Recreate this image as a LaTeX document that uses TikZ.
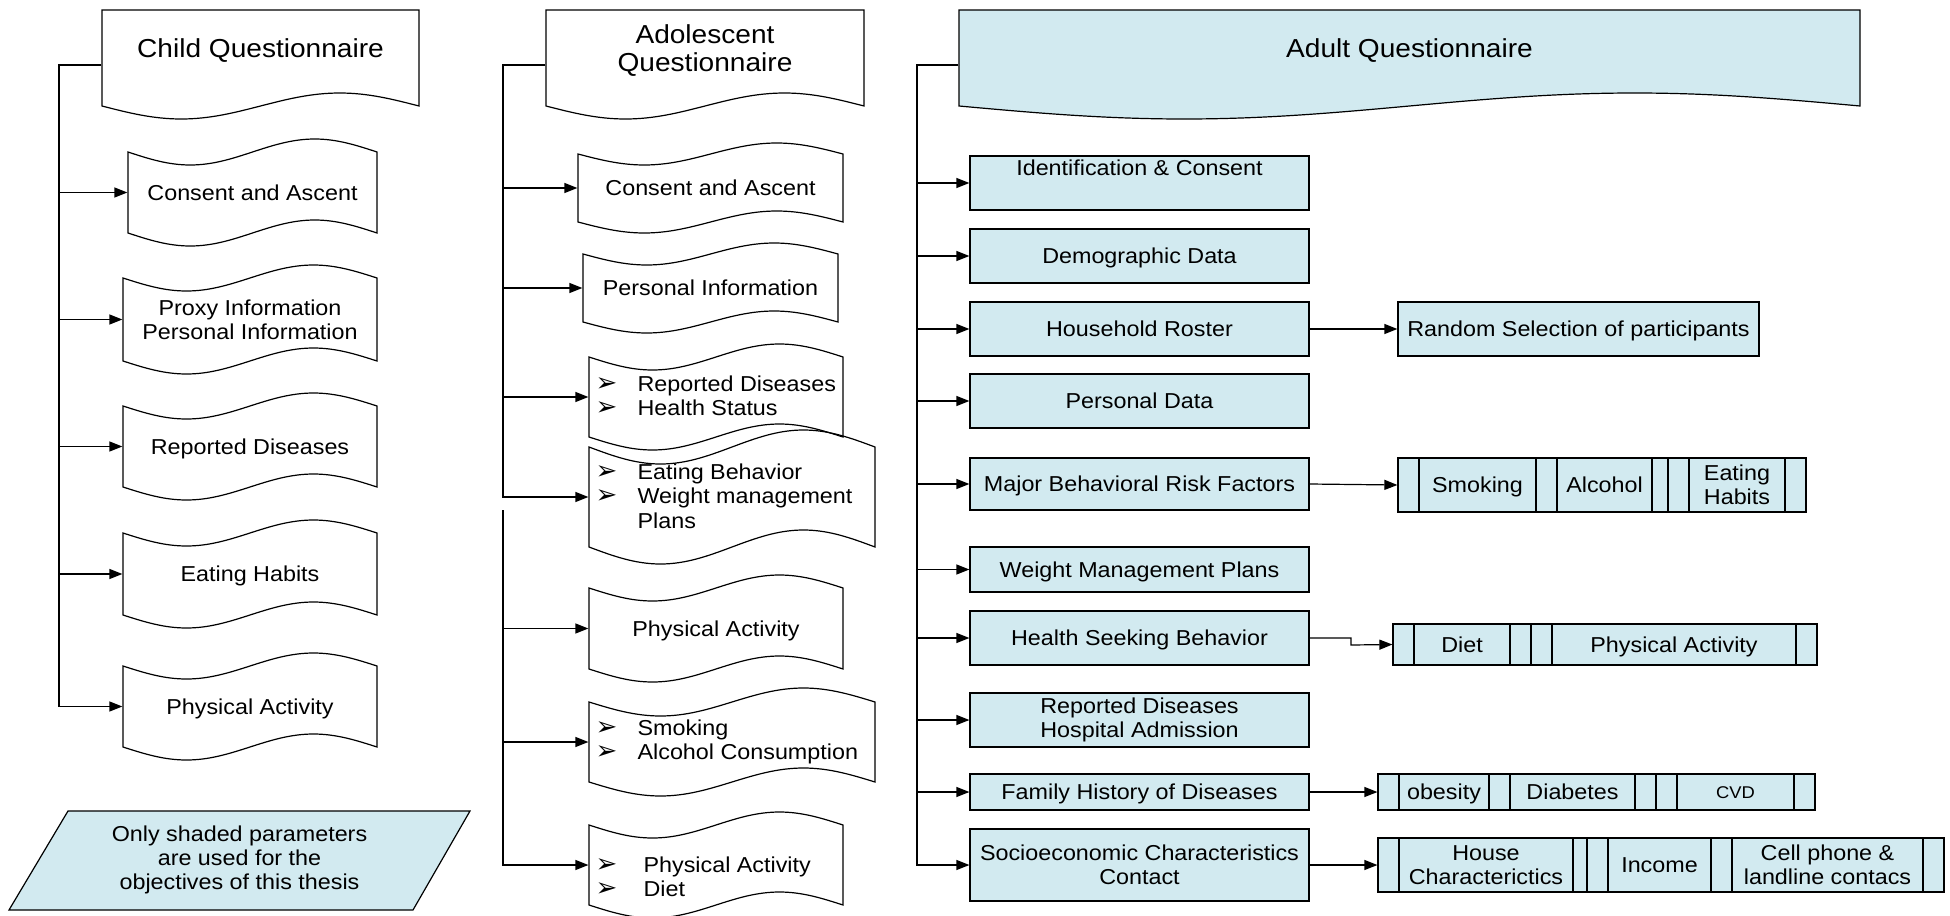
\documentclass[tikz,border=0pt]{standalone}
\usepackage{fontspec}
\setmainfont[FakeStretch=1.08]{Liberation Sans}
\newfontfamily\dejavu{DejaVu Sans}
\usetikzlibrary{arrows.meta}
\definecolor{lblue}{RGB}{210,234,240}
\newcommand\fs{\fontsize{10.8}{12.2}\selectfont}
\newcommand\ft{\fontsize{13}{14}\selectfont}
\newcommand\bul{\makebox[21pt][l]{\dejavu\fontsize{13}{10}\selectfont ➢}}
\newcommand\bulw{\makebox[24pt][l]{\dejavu\fontsize{13}{10}\selectfont ➢}}
% box node: [style]{name}{x1}{y1}{x2}{y2}{text}
\newcommand\bx[7][]{%
  \pgfmathsetmacro\bw{(#5-#3)*0.5}%
  \pgfmathsetmacro\bh{(#6-#4)*0.5}%
  \pgfmathsetmacro\bcx{(#3+#5)/2}%
  \pgfmathsetmacro\bcy{(#4+#6)/2}%
  \node[#1,minimum width=\bw pt,minimum height=\bh pt] (#2) at (\bcx,\bcy) {#7};}
% tape shape: [opts]{x1}{x2}{ytop}{ybot}{amp}
\newcommand\tapeshape[6][]{%
  \pgfmathsetmacro\qa{#2+(#3-#2)/4}%
  \pgfmathsetmacro\qb{(#2+#3)/2}%
  \pgfmathsetmacro\qc{#2+3*(#3-#2)/4}%
  \draw[#1] (#2,#4) sin (\qa,#4+#6) cos (\qb,#4) sin (\qc,#4-#6) cos (#3,#4)
    -- (#3,#5) sin (\qc,#5-#6) cos (\qb,#5) sin (\qa,#5+#6) cos (#2,#5) -- cycle;}
% document shape
\newcommand\docshape[6][]{%
  \pgfmathsetmacro\qa{#2+(#3-#2)/4}%
  \pgfmathsetmacro\qb{(#2+#3)/2}%
  \pgfmathsetmacro\qc{#2+3*(#3-#2)/4}%
  \draw[#1] (#2,#4) -- (#3,#4)
    -- (#3,#5) sin (\qc,#5-#6) cos (\qb,#5) sin (\qa,#5+#6) cos (#2,#5) -- cycle;}
\begin{document}
\begin{tikzpicture}[x=0.5pt,y=-0.5pt,line width=0.6pt,
  one/.style={text height=7.8pt,text depth=0pt},
  shp/.style={inner sep=0pt,align=center,font=\fs},
  shp1/.style={shp,one},
  ttl/.style={inner sep=0pt,align=center,font=\ft},
  btxt/.style={inner sep=0pt,align=left,anchor=west,font=\fs},
  abox/.style={draw,fill=lblue,inner sep=0pt,align=center,font=\fs},
  abox1/.style={abox,one},
  subr/.style={abox,path picture={\draw[line width=0.6pt]
      ([xshift=10.5pt]path picture bounding box.north west) -- ([xshift=10.5pt]path picture bounding box.south west)
      ([xshift=-10.5pt]path picture bounding box.north east) -- ([xshift=-10.5pt]path picture bounding box.south east);}},
  subr1/.style={subr,one},
  arr/.style={-{Triangle[length=6.5pt,width=5pt]}}]
\useasboundingbox (0,0) rectangle (1950,916);

% ---------------- Child column ----------------
\docshape{102}{419}{10}{106}{13}
\bx[shp]{cq}{102}{10}{419}{120}{}
\node[ttl] (cqt) at (260.5,51) {Child Questionnaire};
\tapeshape{128}{377}{152}{233}{13}
\bx[shp1]{c1}{128}{152}{377}{233}{Consent and Ascent}
\tapeshape{123}{377}{278}{361}{13}
\bx[shp]{c2}{123}{278}{377}{361}{Proxy Information\\Personal Information}
\tapeshape{123}{377}{406}{487}{13}
\bx[shp1]{c3}{123}{406}{377}{487}{Reported Diseases}
\tapeshape{123}{377}{533}{615}{13}
\bx[shp1]{c4}{123}{533}{377}{615}{Eating Habits}
\tapeshape{123}{377}{666}{747}{13}
\bx[shp1]{c5}{123}{666}{377}{747}{Physical Activity}
\coordinate (csp) at (59,65);
\draw[arr] (cq.west) -| (csp |- c5.west) -- (c5.west);
\foreach \n in {c1,c2,c3,c4} \draw[arr] (csp |- \n.west) -- (\n.west);

\draw[fill=lblue] (68,811) -- (470,811) -- (413,910) -- (9,910) -- cycle;
\node[shp] (note) at (239.5,860) {Only shaded parameters\\are used for the\\objectives of this thesis};

% ---------------- Adolescent column ----------------
\docshape{546}{864}{10}{106}{13}
\bx[shp]{aq}{546}{10}{864}{120}{}
\node[ttl] (aqt) at (705,51) {Adolescent\\Questionnaire};
\tapeshape{578}{843}{154}{222}{11}
\bx[shp1]{d1}{578}{154}{843}{222}{Consent and Ascent}
\tapeshape{583}{838}{254}{322}{11}
\bx[shp1]{d2}{583}{254}{838}{322}{Personal Information}
\tapeshape{589}{843}{357}{437}{13}
\bx[shp]{d3}{589}{357}{843}{437}{}
\node[btxt] (d3t) at (595,395.5) {\bul Reported Diseases\\\bul Health Status};
\tapeshape{589}{875}{447}{547}{17}
\bx[shp]{d4}{589}{447}{875}{547}{}
\node[btxt] (d4t) at (595,496) {\bul Eating Behavior\\\bul Weight management\\\makebox[21pt]{}Plans};
\tapeshape{589}{843}{588}{669}{13}
\bx[shp1]{d5}{589}{588}{843}{669}{Physical Activity}
\tapeshape{589}{875}{702}{782}{14}
\bx[shp]{d6}{589}{702}{875}{782}{}
\node[btxt] (d6t) at (595,742) {\bul Smoking\\\bul Alcohol Consumption};
\tapeshape{589}{843}{825}{905}{13}
\bx[shp]{d7}{589}{825}{843}{905}{}
\node[btxt] (d7t) at (595,876.5) {\bulw Physical Activity\\\bulw Diet};
\coordinate (asp) at (503,65);
\coordinate (asp2) at (503,510);
\draw[arr] (aq.west) -| (asp |- d4.west) -- (d4.west);
\foreach \n in {d1,d2,d3} \draw[arr] (asp |- \n.west) -- (\n.west);
\draw[arr] (asp2) |- (d7.west);
\foreach \n in {d5,d6} \draw[arr] (asp |- \n.west) -- (\n.west);

% ---------------- Adult column ----------------
\docshape[fill=lblue]{959}{1860}{10}{106}{13}
\bx[shp]{uq}{959}{10}{1860}{120}{}
\node[ttl] (uqt) at (1409.5,51) {Adult Questionnaire};
\bx[abox]{u1}{970}{156}{1309}{210}{}
\node[shp1] (u1t) at (1139.5,168) {Identification \& Consent};
\bx[abox1]{u2}{970}{229}{1309}{283}{Demographic Data}
\bx[abox1]{u3}{970}{302}{1309}{356}{Household Roster}
\bx[abox1]{u4}{970}{374}{1309}{428}{Personal Data}
\bx[abox1]{u5}{970}{458}{1309}{510}{Major Behavioral Risk Factors}
\bx[abox1]{u6}{970}{547}{1309}{592}{Weight Management Plans}
\bx[abox1]{u7}{970}{611}{1309}{665}{Health Seeking Behavior}
\bx[abox]{u8}{970}{693}{1309}{747}{Reported Diseases\\Hospital Admission}
\bx[abox1]{u9}{970}{774}{1309}{810}{Family History of Diseases}
\bx[abox]{u10}{970}{829}{1309}{901}{Socioeconomic Characteristics\\Contact}
\coordinate (usp) at (917,65);
\draw[arr] (uq.west) -| (usp |- u10.west) -- (u10.west);
\foreach \n in {u1,u2,u3,u4,u5,u6,u7,u8,u9} \draw[arr] (usp |- \n.west) -- (\n.west);

% sub boxes
\bx[abox1]{rs}{1398}{302}{1759}{356}{Random Selection of participants}
\bx[subr1]{sm}{1398}{458}{1557}{512}{Smoking}
\bx[subr1]{al}{1536}{458}{1673}{512}{Alcohol}
\bx[subr]{eh}{1668}{458}{1806}{512}{Eating\\Habits}
\bx[subr1]{di}{1393}{624}{1531}{665}{Diet}
\bx[subr1]{pa}{1531}{624}{1817}{665}{Physical Activity}
\bx[subr1]{ob}{1378}{774}{1510}{810}{obesity}
\bx[subr1]{db}{1489}{774}{1656}{810}{Diabetes}
\bx[subr,font=\fontsize{8.5}{10}\selectfont,text height=6.1pt,text depth=0pt]{cvd}{1656}{774}{1815}{810}{CVD}
\bx[subr]{hc}{1378}{838}{1594}{892}{House\\Characterictics}
\bx[subr1]{inc}{1587}{838}{1732}{892}{Income}
\bx[subr]{cell}{1711}{838}{1944}{892}{Cell phone \&\\landline contacs}

\draw[arr] (u3.east) -- (rs.west);
\draw[arr] (u5.east) -- (sm.west);
\coordinate (hk) at (1351,645);
\draw[arr] (u7.east) -| (hk) -- (di.west);
\draw[arr] (u9.east) -- (ob.west);
\draw[arr] (u10.east) -- (hc.west);
\end{tikzpicture}
\end{document}
